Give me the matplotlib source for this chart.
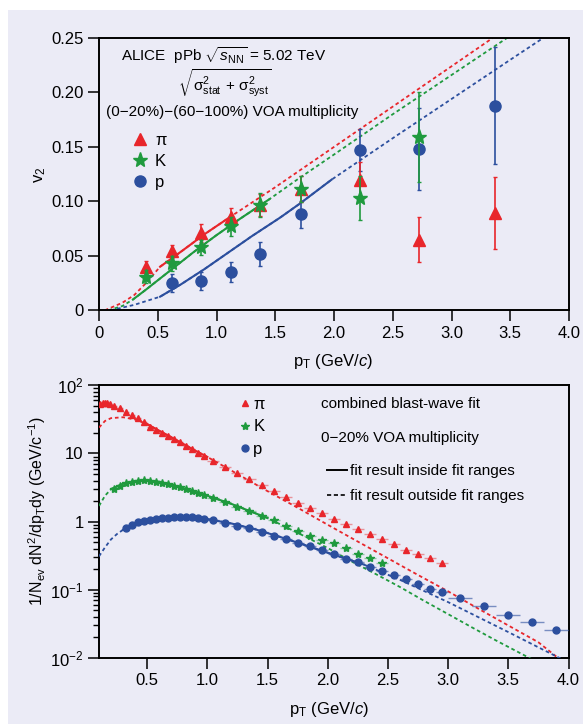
import matplotlib.pyplot as plt
from matplotlib.patches import Rectangle
from matplotlib.lines import Line2D

plt.rcParams['font.family'] = ['Liberation Sans', 'DejaVu Sans']
plt.rcParams['mathtext.fontset'] = 'custom'
plt.rcParams['mathtext.rm'] = 'Liberation Sans'
plt.rcParams['mathtext.it'] = 'Liberation Sans:italic'
plt.rcParams['mathtext.sf'] = 'Liberation Sans'

RED = '#e8262b'
GREEN = '#1f9a3e'
BLUE = '#2c4f9e'
BG = '#ebebf6'

# ---- top panel: v2 vs pT ----
pi_pt = [0.4, 0.62, 0.87, 1.12, 1.37, 1.72, 2.22, 2.72, 3.37]
pi_v2 = [0.040, 0.054, 0.071, 0.086, 0.097, 0.111, 0.120, 0.065, 0.089]
pi_err = [0.005, 0.006, 0.008, 0.008, 0.010, 0.012, 0.016, 0.021, 0.033]

k_pt = [0.4, 0.62, 0.87, 1.12, 1.37, 1.72, 2.22, 2.72]
k_v2 = [0.031, 0.043, 0.058, 0.077, 0.097, 0.111, 0.103, 0.159]
k_err = [0.006, 0.007, 0.007, 0.009, 0.011, 0.012, 0.020, 0.041]

p_pt = [0.62, 0.87, 1.12, 1.37, 1.72, 2.22, 2.72, 3.37]
p_v2 = [0.025, 0.027, 0.035, 0.052, 0.088, 0.147, 0.148, 0.188]
p_err = [0.008, 0.008, 0.009, 0.011, 0.012, 0.019, 0.038, 0.054]

# blast-wave curves
pi_fit_pt = [0.05, 0.2, 0.3, 0.4, 0.52, 0.7, 0.9, 1.12, 1.5, 2.0, 2.5, 3.0, 3.35]
pi_fit_v2 = [0, 0.007, 0.014, 0.025, 0.040, 0.054, 0.070, 0.086, 0.113, 0.150, 0.187, 0.224, 0.250]
k_fit_pt = [0.08, 0.2, 0.29, 0.4, 0.6, 0.8, 1.0, 1.2, 1.45, 1.7, 2.0, 2.5, 3.0, 3.5]
k_fit_v2 = [0, 0.004, 0.010, 0.019, 0.036, 0.053, 0.069, 0.084, 0.102, 0.121, 0.143, 0.180, 0.216, 0.252]
p_fit_pt = [0.1, 0.3, 0.52, 0.7, 0.9, 1.1, 1.3, 1.54, 1.71, 1.98, 2.5, 3.0, 3.5, 3.78]
p_fit_v2 = [0, 0.005, 0.0125, 0.024, 0.038, 0.053, 0.068, 0.085, 0.098, 0.120, 0.158, 0.194, 0.230, 0.250]
v2_ranges = [(0.52, 1.12), (0.29, 1.45), (0.52, 1.98)]

# ---- bottom panel: spectra ----
pi_sp_pt = [0.11, 0.13, 0.15, 0.17, 0.19, 0.225, 0.275, 0.325, 0.375, 0.425, 0.475, 0.525, 0.575,
            0.625, 0.675, 0.725, 0.775, 0.825, 0.875, 0.925, 0.975, 1.05, 1.15, 1.25, 1.35, 1.45,
            1.55, 1.65, 1.75, 1.85, 1.95, 2.05, 2.15, 2.25, 2.35, 2.45, 2.55, 2.65, 2.75, 2.85, 2.95]
pi_sp = [53, 55, 55, 54.5, 53, 50, 46, 41, 36.7, 32.8, 28.6, 24.7, 22.1,
         19.8, 18.1, 16.3, 14.6, 12.9, 11.5, 10.3, 9.3, 7.7, 6.3, 5.1, 4.2, 3.45,
         2.78, 2.3, 1.9, 1.57, 1.33, 1.08, 0.92, 0.78, 0.65, 0.55, 0.47, 0.39, 0.33, 0.29, 0.25]
pi_sp_dx = [0.01] * 5 + [0.025] * 16 + [0.05] * 20

k_sp_pt = [0.225, 0.275, 0.325, 0.375, 0.425, 0.475, 0.525, 0.575, 0.625, 0.675, 0.725, 0.775,
           0.825, 0.875, 0.925, 0.975, 1.05, 1.15, 1.25, 1.35, 1.45, 1.55, 1.65, 1.75, 1.85,
           1.95, 2.05, 2.15, 2.25, 2.35, 2.45]
k_sp = [3.0, 3.37, 3.66, 3.86, 4.0, 4.02, 4.0, 3.88, 3.73, 3.57, 3.37, 3.19,
        3.01, 2.82, 2.66, 2.46, 2.25, 1.96, 1.66, 1.43, 1.22, 1.04, 0.87, 0.73, 0.62,
        0.54, 0.48, 0.41, 0.34, 0.29, 0.25]
k_sp_dx = [0.025] * 16 + [0.05] * 15

p_sp_pt = [0.325, 0.375, 0.425, 0.475, 0.525, 0.575, 0.625, 0.675, 0.725, 0.775, 0.825, 0.875,
           0.925, 0.975, 1.05, 1.15, 1.25, 1.35, 1.45, 1.55, 1.65, 1.75, 1.85, 1.95, 2.05,
           2.15, 2.25, 2.35, 2.45, 2.55, 2.65, 2.75, 2.85, 2.95, 3.1, 3.3, 3.5, 3.7, 3.9]
p_sp = [0.80, 0.895, 0.98, 1.035, 1.06, 1.10, 1.12, 1.15, 1.16, 1.17, 1.18, 1.17,
        1.14, 1.10, 1.04, 0.97, 0.87, 0.80, 0.71, 0.62, 0.55, 0.49, 0.44, 0.385, 0.336,
        0.287, 0.252, 0.219, 0.189, 0.163, 0.144, 0.123, 0.104, 0.092, 0.076, 0.058, 0.043, 0.034, 0.026]
p_sp_dx = [0.025] * 14 + [0.05] * 20 + [0.1] * 5

pi_bw_pt = [0.1, 0.15, 0.2, 0.3, 0.4, 0.5, 0.6, 0.7, 0.8, 0.9, 1.0, 1.25, 1.5, 1.75, 2.0, 2.25,
            2.5, 2.75, 3.0, 3.25, 3.5, 3.75, 3.92]
pi_bw = [24, 30, 33, 34, 31.5, 27, 21.5, 17.3, 13.8, 11, 8.9, 5.0, 2.8, 1.6, 0.9, 0.51,
         0.29, 0.165, 0.095, 0.053, 0.03, 0.017, 0.0098]
k_bw_pt = [0.1, 0.15, 0.2, 0.3, 0.4, 0.5, 0.6, 0.7, 0.8, 0.9, 1.0, 1.2, 1.5, 1.8, 2.0, 2.2,
           2.4, 2.6, 2.8, 3.0, 3.2, 3.4, 3.7]
k_bw = [1.7, 2.4, 3.0, 3.6, 3.95, 4.02, 3.85, 3.5, 3.1, 2.74, 2.4, 1.82, 1.13, 0.62, 0.41, 0.26,
        0.17, 0.11, 0.069, 0.044, 0.028, 0.018, 0.0095]
p_bw_pt = [0.1, 0.15, 0.2, 0.25, 0.3, 0.4, 0.5, 0.6, 0.7, 0.8, 0.9, 1.0, 1.2, 1.4, 1.6, 1.8,
           2.0, 2.3, 2.6, 3.0, 3.5, 3.95]
p_bw = [0.31, 0.42, 0.55, 0.66, 0.76, 0.94, 1.05, 1.11, 1.15, 1.17, 1.15, 1.09, 0.94, 0.77, 0.6, 0.46,
        0.35, 0.235, 0.14, 0.066, 0.024, 0.0095]
sp_ranges = [(0.5, 1.0), (0.2, 1.5), (0.3, 2.3)]

v2_xticks = [0, 0.5, 1.0, 1.5, 2.0, 2.5, 3.0, 3.5, 4.0]
v2_xlabels = ['0', '0.5', '1.0', '1.5', '2.0', '2.5', '3.0', '3.5', '4.0']
v2_yticks = [0, 0.05, 0.10, 0.15, 0.20, 0.25]
v2_ylabels = ['0', '0.05', '0.10', '0.15', '0.20', '0.25']
sp_xticks = [0.5, 1.0, 1.5, 2.0, 2.5, 3.0, 3.5, 4.0]
sp_xlabels = ['0.5', '1.0', '1.5', '2.0', '2.5', '3.0', '3.5', '4.0']
sp_yticks = [1e-2, 1e-1, 1, 10, 100]
sp_ylabels = ['10$^{-2}$', '10$^{-1}$', '1', '10', '10$^{2}$']

DASH = (0, (2.0, 1.6))
TXT = 11

fig = plt.figure(figsize=(5.83, 7.24), dpi=100)
fig.patch.set_facecolor('white')
fig.add_artist(Rectangle((8 / 583, 0), 1, 714 / 724, transform=fig.transFigure,
                         facecolor=BG, edgecolor='none', zorder=-10))

ax1 = fig.add_axes([99 / 583, 1 - 310.3 / 724, 470 / 583, 272.3 / 724])
ax2 = fig.add_axes([99 / 583, 1 - 658 / 724, 469.5 / 583, 272.7 / 724])

for ax in (ax1, ax2):
    ax.set_facecolor(BG)
    for s in ax.spines.values():
        s.set_linewidth(1.4)
    ax.tick_params(direction='out', length=8, width=1.1, labelsize=12, pad=3,
                   top=False, right=False)

# ---- top panel ----
fits = [(pi_fit_pt, pi_fit_v2, RED), (k_fit_pt, k_fit_v2, GREEN), (p_fit_pt, p_fit_v2, BLUE)]
for (x, y, c), (lo, hi) in zip(fits, v2_ranges):
    ax1.plot(x, y, color=c, lw=1.3, ls=DASH)
    xs = [a for a in x if lo <= a <= hi]
    ys = [b for a, b in zip(x, y) if lo <= a <= hi]
    ax1.plot(xs, ys, color=c, lw=1.5)

ax1.errorbar(pi_pt, pi_v2, yerr=pi_err, fmt='^', color=RED, ms=8.5, elinewidth=1.2,
             capsize=1.5, zorder=5)
ax1.errorbar(k_pt, k_v2, yerr=k_err, fmt='*', color=GREEN, ms=11, elinewidth=1.2,
             capsize=1.5, zorder=6)
ax1.errorbar(p_pt, p_v2, yerr=p_err, fmt='o', color=BLUE, ms=8, elinewidth=1.2,
             capsize=1.5, zorder=4)

ax1.set_xlim(0, 4.0)
ax1.set_ylim(0, 0.25)
ax1.set_xticks(v2_xticks, v2_xlabels)
ax1.set_yticks(v2_yticks, v2_ylabels)
ax1.set_xlabel('p$_{\\rm T}$ (GeV/$c$)', fontsize=12)
ax1.xaxis.set_label_coords(0.498, -0.152)
ax1.set_ylabel('v$_2$', fontsize=12)
ax1.yaxis.set_label_coords(-0.109, 0.497)

ax1.text(0.266, 0.934, 'ALICE  pPb $\\sqrt{s_{\\rm NN}}$ = 5.02 TeV', transform=ax1.transAxes,
         ha='center', va='center', fontsize=TXT)
ax1.text(0.268, 0.835,
         '$\\sqrt{\\mathrm{\\sigma}^2_{\\rm stat}\\,+\\,\\mathrm{\\sigma}^2_{\\rm syst}}$',
         transform=ax1.transAxes, ha='center', va='center', fontsize=TXT)
ax1.text(0.015, 0.728, '(0\u221220%)\u2212(60\u2212100%) VOA multiplicity', transform=ax1.transAxes,
         ha='left', va='center', fontsize=TXT)

h1 = [Line2D([], [], ls='none', marker='^', color=RED, ms=8.5),
      Line2D([], [], ls='none', marker='*', color=GREEN, ms=11),
      Line2D([], [], ls='none', marker='o', color=BLUE, ms=8)]
ax1.legend(h1, ['\u03c0', 'K', 'p'], loc='upper left', bbox_to_anchor=(0.0696, 0.650),
           frameon=False, fontsize=12, handlelength=1.0, handletextpad=0.4,
           labelspacing=0.36, borderpad=0, borderaxespad=0)

# ---- bottom panel ----
bws = [(pi_bw_pt, pi_bw, RED), (k_bw_pt, k_bw, GREEN), (p_bw_pt, p_bw, BLUE)]
for (x, y, c), (lo, hi) in zip(bws, sp_ranges):
    ax2.plot(x, y, color=c, lw=1.3, ls=DASH, zorder=3)
    xs = [a for a in x if lo <= a <= hi]
    ys = [b for a, b in zip(x, y) if lo <= a <= hi]
    ax2.plot(xs, ys, color=c, lw=1.5, zorder=3)

ax2.errorbar(pi_sp_pt, pi_sp, xerr=pi_sp_dx, fmt='^', color=RED, ms=5, elinewidth=1.0,
             ecolor=(0.91, 0.15, 0.17, 0.45), zorder=5)
ax2.errorbar(k_sp_pt, k_sp, xerr=k_sp_dx, fmt='*', color=GREEN, ms=6, elinewidth=1.0,
             ecolor=(0.12, 0.6, 0.24, 0.45), zorder=5)
ax2.errorbar(p_sp_pt, p_sp, xerr=p_sp_dx, fmt='o', color=BLUE, ms=5, elinewidth=1.0,
             ecolor=(0.17, 0.31, 0.62, 0.6), zorder=5)

ax2.set_yscale('log')
ax2.set_xlim(0.1, 4.0)
ax2.set_ylim(1e-2, 1e2)
ax2.set_xticks(sp_xticks, sp_xlabels)
ax2.set_yticks(sp_yticks, sp_ylabels)
ax2.tick_params(axis='y', which='minor', direction='out', length=4, width=1.0, right=False)
ax2.set_xlabel('p$_{\\rm T}$ (GeV/$c$)', fontsize=12)
ax2.xaxis.set_label_coords(0.49, -0.155)
ax2.set_ylabel('1/N$_{\\rm ev}$ dN$^2$/dp$_{\\rm T}$dy (GeV/c$^{-1}$)', fontsize=11.5)
ax2.yaxis.set_label_coords(-0.108, 0.539)

h2 = [Line2D([], [], ls='none', marker='^', color=RED, ms=5),
      Line2D([], [], ls='none', marker='*', color=GREEN, ms=6),
      Line2D([], [], ls='none', marker='o', color=BLUE, ms=5)]
leg = ax2.legend(h2, ['\u03c0', 'K', 'p'], loc='upper left', bbox_to_anchor=(0.300, 0.957),
                 frameon=False, fontsize=12, handlelength=0.6, handletextpad=0.2,
                 labelspacing=0.44, borderpad=0, borderaxespad=0)
ax2.add_artist(leg)

ax2.text(0.473, 0.931, 'combined blast-wave fit', transform=ax2.transAxes,
         ha='left', va='center', fontsize=TXT)
ax2.text(0.473, 0.807, '0\u221220% VOA multiplicity', transform=ax2.transAxes,
         ha='left', va='center', fontsize=TXT)
h3 = [Line2D([], [], color='black', lw=1.4),
      Line2D([], [], color='black', lw=1.2, ls=(0, (2.5, 1.6)))]
ax2.legend(h3, ['fit result inside fit ranges', 'fit result outside fit ranges'],
           loc='upper left', bbox_to_anchor=(0.486, 0.710), frameon=False, fontsize=TXT,
           handlelength=1.3, handletextpad=0.2, labelspacing=0.72, borderpad=0, borderaxespad=0)

fig.savefig('out.png', dpi=100, facecolor=fig.get_facecolor())
